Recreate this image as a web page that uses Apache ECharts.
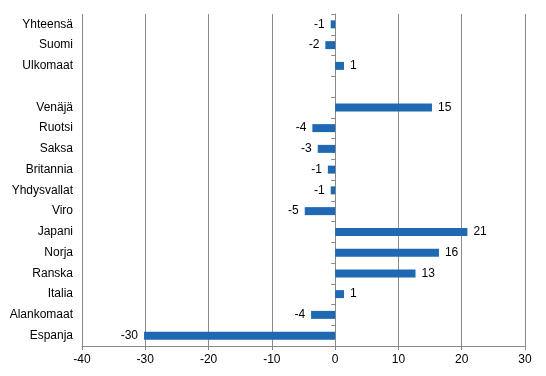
<!DOCTYPE html>
<html>
<head>
<meta charset="utf-8">
<script src="https://cdn.jsdelivr.net/npm/echarts@6/dist/echarts.min.js"></script>
<style>
  html, body { margin: 0; padding: 0; background: #fff; }
  #chart { width: 546px; height: 376px; }
</style>
</head>
<body>
<div id="chart"></div>
<script>
// categories top to bottom, '' is the empty spacer row
var countries = ["Yhteensä", "Suomi", "Ulkomaat", "", "Venäjä", "Ruotsi", "Saksa", "Britannia",
  "Yhdysvallat", "Viro", "Japani", "Norja", "Ranska", "Italia", "Alankomaat", "Espanja"];
var changePct = [-0.7, -1.55, 1.4, null, 15.3, -3.6, -2.75, -1.15,
  -0.7, -4.8, 20.9, 16.4, 12.7, 1.4, -3.8, -30.2];
var xTicks = { min: -40, max: 30, step: 10 };

var fontFam = "Arial, 'Liberation Sans', sans-serif";
var gray = "#8a8a8a";

var barData = changePct.map(function (v) {
  if (v === null) return { value: null };
  return {
    value: v,
    label: { position: v < 0 ? "left" : "right" }
  };
});

var myChart = echarts.init(document.getElementById("chart"));
var option = {
  animation: false,
  grid: { left: 82, right: 21, top: 14, bottom: 30, containLabel: false },
  xAxis: {
    type: "value",
    min: xTicks.min,
    max: xTicks.max,
    interval: xTicks.step,
    axisLine: { show: true, onZero: false, lineStyle: { color: gray, width: 1 } },
    axisTick: { show: true, length: 4, lineStyle: { color: gray } },
    axisLabel: { color: "#000", fontSize: 12, fontFamily: fontFam, margin: 8 },
    splitLine: { show: true, lineStyle: { color: gray, width: 1 } }
  },
  yAxis: [
    {
      type: "category",
      data: countries,
      inverse: true,
      position: "left",
      axisLine: { show: false, onZero: false },
      axisTick: { show: false },
      axisLabel: { color: "#000", fontSize: 12, fontFamily: fontFam, margin: 9 }
    },
    {
      type: "category",
      data: countries,
      inverse: true,
      position: "left",
      axisLine: { show: true, onZero: true, lineStyle: { color: gray, width: 1 } },
      axisTick: { show: true, length: 4, lineStyle: { color: gray } },
      axisLabel: { show: false },
      splitLine: { show: false }
    }
  ],
  series: [
    {
      type: "bar",
      yAxisIndex: 0,
      data: barData,
      barWidth: 8,
      itemStyle: { color: "#1f69b2" },
      label: {
        show: true,
        distance: 6,
        color: "#000",
        fontSize: 12,
        fontFamily: fontFam,
        formatter: function (p) { return Math.round(p.value); }
      }
    }
  ]
};
myChart.setOption(option, true);
</script>
</body>
</html>
